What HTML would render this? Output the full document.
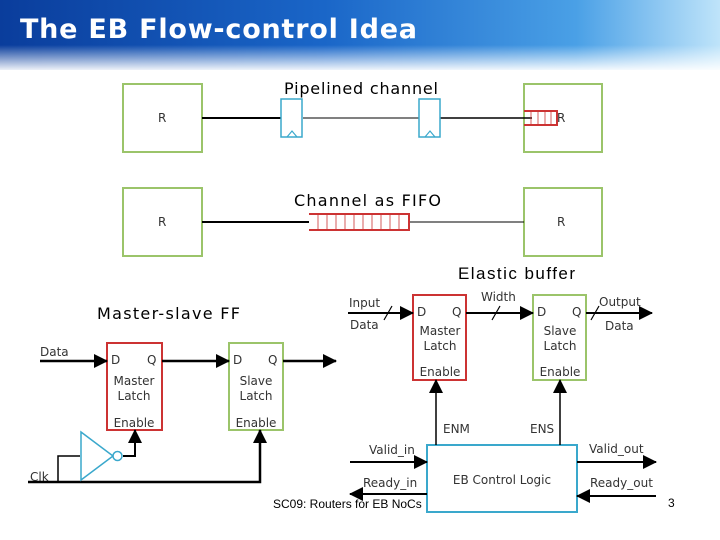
<!DOCTYPE html>
<html><head><meta charset="utf-8"><style>
html,body{margin:0;padding:0;background:#fff}
svg{display:block}
text{font-family:"DejaVu Sans","Liberation Sans",sans-serif;fill:#333}
</style></head><body>
<svg width="720" height="540" viewBox="0 0 720 540" xmlns="http://www.w3.org/2000/svg">
<defs>
<linearGradient id="hg" x1="0" y1="0" x2="1" y2="0">
<stop offset="0" stop-color="#0a3d9c"/><stop offset="0.45" stop-color="#1a66c8"/><stop offset="0.8" stop-color="#4aa0e6"/><stop offset="1" stop-color="#bfe4fa"/>
</linearGradient>
<linearGradient id="fade" x1="0" y1="0" x2="0" y2="1">
<stop offset="0" stop-color="#fff" stop-opacity="0"/><stop offset="1" stop-color="#fff" stop-opacity="1"/>
</linearGradient>
<marker id="arB" markerWidth="14" markerHeight="14" refX="13" refY="7" orient="auto" markerUnits="userSpaceOnUse"><path d="M0,0 L14,7 L0,14 z" fill="#000"/></marker>
</defs>
<rect x="0" y="0" width="720" height="70" fill="url(#hg)"/>
<rect x="0" y="45" width="720" height="27" fill="url(#fade)"/>
<text x="20" y="38" font-weight="bold" font-size="27" style="fill:#fff" textLength="397">The EB Flow-control Idea</text>

<g fill="none" stroke="#9bc46a" stroke-width="2">
<rect x="123" y="84" width="79" height="68"/><rect x="524" y="84" width="78" height="68"/>
<rect x="123" y="188" width="79" height="68"/><rect x="524" y="188" width="78" height="68"/>
</g>
<g font-size="12"><text x="158" y="122">R</text><text x="557" y="122">R</text><text x="158" y="226">R</text><text x="557" y="226">R</text></g>
<line x1="202" y1="118" x2="281" y2="118" stroke="#000" stroke-width="2"/>
<line x1="303" y1="118" x2="419" y2="118" stroke="#000" stroke-width="1"/>
<line x1="440" y1="118" x2="532" y2="118" stroke="#000" stroke-width="1.5"/>
<g fill="#fff" stroke="#3aa8cc" stroke-width="1.5">
<rect x="281" y="99" width="21" height="38"/><rect x="419" y="99" width="21" height="38"/>
</g>
<path d="M287,137 L292,131 L297,137 M425,137 L430,131 L435,137" fill="none" stroke="#3aa8cc" stroke-width="1.2"/>
<path d="M524,111 H557 V125 H524" fill="none" stroke="#c33" stroke-width="2"/>
<g stroke="#c33" stroke-width="0.8"><line x1="531" y1="111" x2="531" y2="125"/><line x1="538" y1="111" x2="538" y2="125"/><line x1="545" y1="111" x2="545" y2="125"/><line x1="551" y1="111" x2="551" y2="125"/></g>
<text x="284" y="94" font-size="16" style="fill:#000" textLength="154">Pipelined channel</text>

<line x1="202" y1="222" x2="309" y2="222" stroke="#000" stroke-width="2"/>
<line x1="409" y1="222" x2="524" y2="222" stroke="#000" stroke-width="1"/>
<path d="M309,214 H409 V230 H309" fill="#fff" stroke="#c33" stroke-width="2"/>
<g stroke="#c33" stroke-width="0.8">
<line x1="318" y1="214" x2="318" y2="230"/><line x1="327" y1="214" x2="327" y2="230"/><line x1="336" y1="214" x2="336" y2="230"/><line x1="345" y1="214" x2="345" y2="230"/><line x1="354" y1="214" x2="354" y2="230"/><line x1="363" y1="214" x2="363" y2="230"/><line x1="372" y1="214" x2="372" y2="230"/><line x1="381" y1="214" x2="381" y2="230"/><line x1="390" y1="214" x2="390" y2="230"/><line x1="399" y1="214" x2="399" y2="230"/>
</g>
<text x="294" y="206" font-size="16" style="fill:#000" textLength="147">Channel as FIFO</text>

<text x="458" y="279" font-size="17" style="fill:#000;font-family:'Liberation Sans',sans-serif" textLength="117">Elastic buffer</text>
<text x="97" y="319" font-size="16" style="fill:#000" textLength="143">Master-slave FF</text>

<rect x="107" y="343" width="55" height="87" fill="#fff" stroke="#c33" stroke-width="2"/>
<rect x="229" y="343" width="54" height="87" fill="#fff" stroke="#9bc46a" stroke-width="2"/>
<g font-size="12">
<text x="40" y="356">Data</text>
<text x="111" y="364">D</text><text x="147" y="364">Q</text>
<text x="134" y="385" text-anchor="middle">Master</text><text x="134" y="400" text-anchor="middle">Latch</text>
<text x="134" y="427" text-anchor="middle">Enable</text>
<text x="233" y="364">D</text><text x="268" y="364">Q</text>
<text x="256" y="385" text-anchor="middle">Slave</text><text x="256" y="400" text-anchor="middle">Latch</text>
<text x="256" y="427" text-anchor="middle">Enable</text>
<text x="30" y="481">Clk</text>
</g>
<g stroke="#000" stroke-width="2.5" fill="none">
<line x1="40" y1="361" x2="107" y2="361" marker-end="url(#arB)"/>
<line x1="162" y1="361" x2="229" y2="361" marker-end="url(#arB)"/>
<line x1="283" y1="361" x2="336" y2="361" marker-end="url(#arB)"/>
<polyline points="28,482 260,482 260,430" marker-end="url(#arB)"/>
<polyline points="58,482 58,456 80,456" stroke-width="1.5"/>
<polyline points="123,456 135,456 135,430" marker-end="url(#arB)" stroke-width="2"/>
</g>
<path d="M81,432 L113,456 L81,480 z" fill="#fff" stroke="#3aa8cc" stroke-width="1.5"/>
<circle cx="117.5" cy="456" r="4.5" fill="#fff" stroke="#3aa8cc" stroke-width="1.5"/>

<rect x="413" y="295" width="53" height="85" fill="#fff" stroke="#c33" stroke-width="2"/>
<rect x="533" y="295" width="53" height="85" fill="#fff" stroke="#9bc46a" stroke-width="2"/>
<rect x="427" y="445" width="150" height="67" fill="#fff" stroke="#3aa8cc" stroke-width="2"/>
<g font-size="12">
<text x="349" y="307">Input</text><text x="350" y="329">Data</text>
<text x="417" y="316">D</text><text x="452" y="316">Q</text>
<text x="440" y="335" text-anchor="middle">Master</text><text x="440" y="350" text-anchor="middle">Latch</text>
<text x="440" y="376" text-anchor="middle">Enable</text>
<text x="481" y="301">Width</text>
<text x="537" y="316">D</text><text x="572" y="316">Q</text>
<text x="560" y="335" text-anchor="middle">Slave</text><text x="560" y="350" text-anchor="middle">Latch</text>
<text x="560" y="376" text-anchor="middle">Enable</text>
<text x="599" y="306">Output</text><text x="605" y="330">Data</text>
<text x="443" y="433">ENM</text><text x="530" y="433">ENS</text>
<text x="369" y="454">Valid_in</text><text x="589" y="453">Valid_out</text>
<text x="363" y="487">Ready_in</text><text x="590" y="487">Ready_out</text>
<text x="502" y="484" text-anchor="middle">EB Control Logic</text>
</g>
<g stroke="#000" stroke-width="2" fill="none">
<line x1="348" y1="313" x2="413" y2="313" marker-end="url(#arB)"/>
<line x1="466" y1="313" x2="533" y2="313" marker-end="url(#arB)"/>
<line x1="586" y1="313" x2="652" y2="313" marker-end="url(#arB)"/>
<line x1="436" y1="445" x2="436" y2="380" marker-end="url(#arB)" stroke-width="1.5"/>
<line x1="560" y1="445" x2="560" y2="380" marker-end="url(#arB)" stroke-width="1.5"/>
<line x1="350" y1="462" x2="427" y2="462" marker-end="url(#arB)"/>
<line x1="427" y1="494" x2="350" y2="494" marker-end="url(#arB)"/>
<line x1="577" y1="462" x2="656" y2="462" marker-end="url(#arB)"/>
<line x1="656" y1="496" x2="577" y2="496" marker-end="url(#arB)"/>
<line x1="384" y1="320" x2="392" y2="306" stroke-width="1.2"/>
<line x1="492" y1="320" x2="500" y2="306" stroke-width="1.2"/>
<line x1="591" y1="320" x2="599" y2="306" stroke-width="1.2"/>
</g>
<text x="273" y="508" font-size="12" style="fill:#000;font-family:'Liberation Sans',sans-serif">SC09: Routers for EB NoCs</text>
<text x="668" y="507" font-size="12" style="fill:#000;font-family:'Liberation Sans',sans-serif">3</text>
</svg>
</body></html>
